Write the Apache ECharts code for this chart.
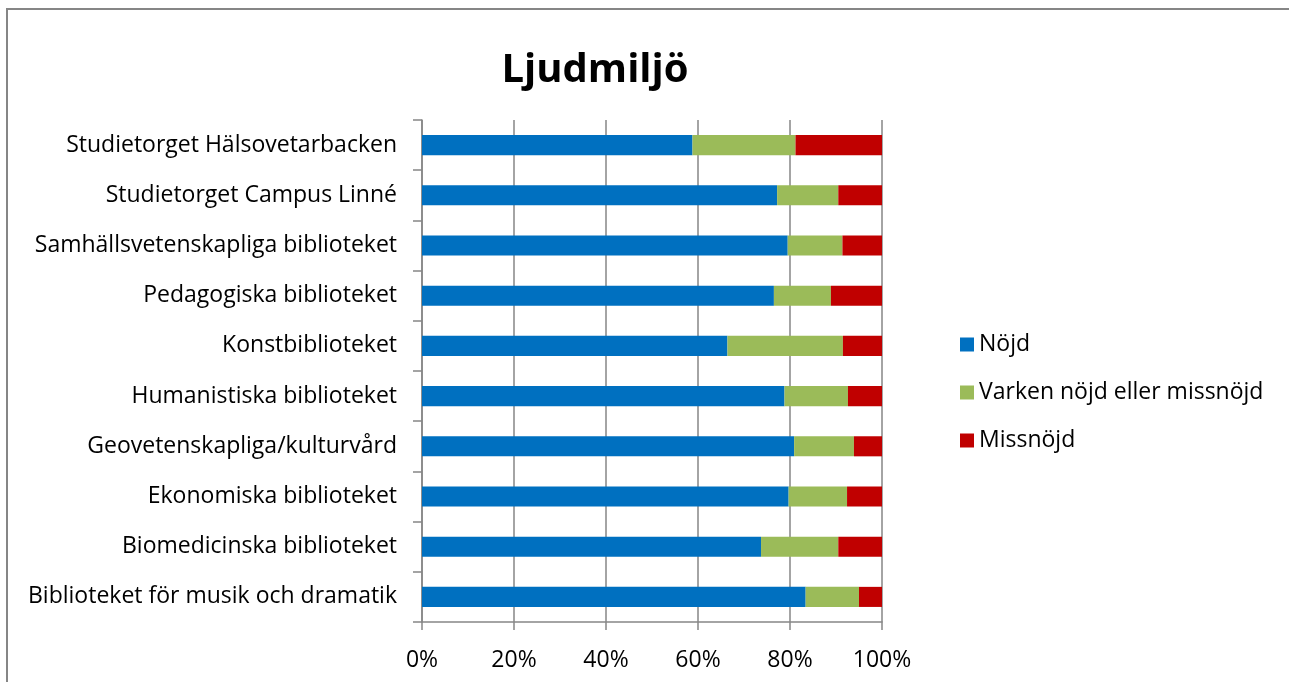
<!DOCTYPE html>
<html>
<head>
<meta charset="utf-8">
<script src="https://cdn.jsdelivr.net/npm/echarts@6/dist/echarts.min.js"></script>
<style>html,body{margin:0;padding:0;background:#fff;}#c{width:1289px;height:682px;}</style>
</head>
<body>
<div id="c"></div>
<script>
const categories = [
  'Studietorget Hälsovetarbacken',
  'Studietorget Campus Linné',
  'Samhällsvetenskapliga biblioteket',
  'Pedagogiska biblioteket',
  'Konstbiblioteket',
  'Humanistiska biblioteket',
  'Geovetenskapliga/kulturvård',
  'Ekonomiska biblioteket',
  'Biomedicinska biblioteket',
  'Biblioteket för musik och dramatik'
];
const seriesNames = ['Nöjd', 'Varken nöjd eller missnöjd', 'Missnöjd'];
const nojd     = [58.8, 77.2, 79.5, 76.5, 66.4, 78.8, 80.9, 79.7, 73.7, 83.4];
const varken   = [22.4, 13.3, 11.9, 12.4, 25.1, 13.8, 13.0, 12.7, 16.8, 11.6];
const missnojd = [18.8,  9.5,  8.6, 11.1,  8.5,  7.4,  6.1,  7.6,  9.5,  5.0];
const xTicks = [0, 20, 40, 60, 80, 100];

const font = '"Open Sans", "Noto Sans", sans-serif';
const colors = ['#0070C0', '#9BBB59', '#C00000'];
const chart = echarts.init(document.getElementById('c'), null, {renderer: 'canvas'});
const values = [nojd, varken, missnojd];
chart.setOption({
  animation: false,
  backgroundColor: '#fff',
  title: {
    text: 'Ljudmiljö', left: 590, top: 46, textAlign: 'center',
    textStyle: {fontFamily: font, fontWeight: 'bold', fontSize: 40, color: '#000'}
  },
  graphic: [{
    type: 'rect', shape: {x: 7, y: 9, width: 1400, height: 800},
    style: {fill: null, stroke: '#868686', lineWidth: 2}, silent: true, z: 100
  }],
  legend: {
    orient: 'vertical', left: 955, top: 328,
    itemWidth: 14, itemHeight: 14, itemGap: 25,
    icon: 'rect',
    textStyle: {fontFamily: font, fontSize: 23, color: '#000', lineHeight: 23},
    data: seriesNames
  },
  grid: {left: 422, right: 407, top: 120, bottom: 60, containLabel: false},
  xAxis: {
    type: 'value', min: xTicks[0], max: xTicks[xTicks.length - 1], interval: 20,
    axisLine: {show: true, lineStyle: {color: '#868686', width: 1.5}},
    axisTick: {show: true, length: 8, lineStyle: {color: '#868686', width: 1.5}},
    axisLabel: {formatter: v => v + '%', fontFamily: font, fontSize: 23, color: '#000', margin: 27},
    splitLine: {show: true, lineStyle: {color: '#868686', width: 1.5}}
  },
  yAxis: {
    type: 'category', data: categories, inverse: true,
    axisLine: {show: true, lineStyle: {color: '#868686', width: 1.5}},
    axisTick: {show: true, length: 9, lineStyle: {color: '#868686', width: 1.5}},
    axisLabel: {fontFamily: font, fontSize: 23, color: '#000', margin: 25}
  },
  series: seriesNames.map((n, i) => ({
    name: n, type: 'bar', stack: 'total', data: values[i],
    barCategoryGap: '60%',
    itemStyle: {color: colors[i]}
  }))
});
</script>
</body>
</html>
